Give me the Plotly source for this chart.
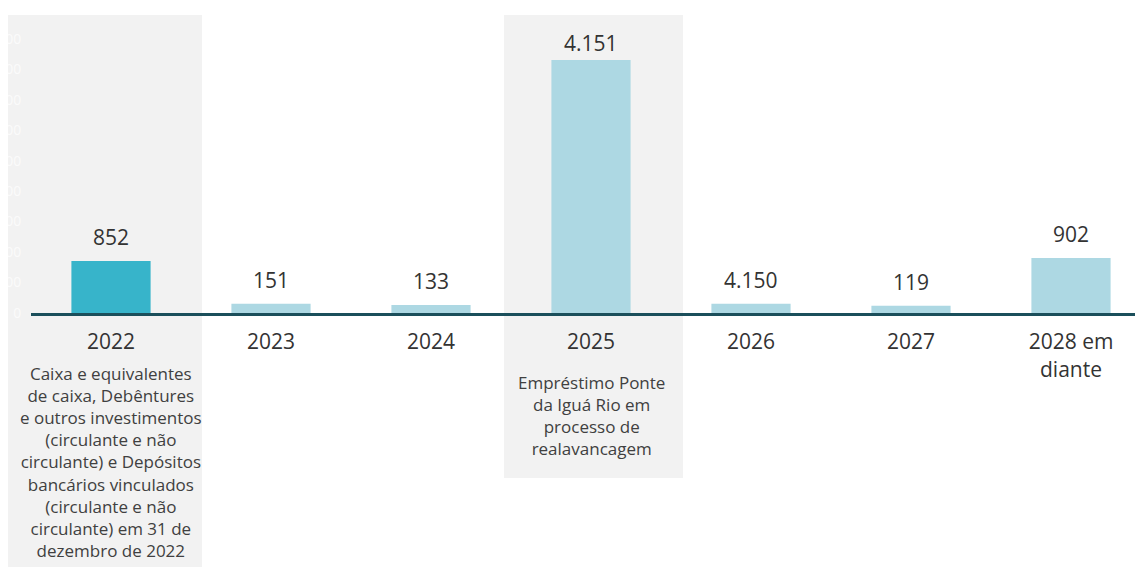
import plotly.graph_objects as go

categories = ["2022", "2023", "2024", "2025", "2026", "2027", "2028 em<br>diante"]
values = [852, 151, 133, 4151, 150, 119, 902]
value_labels = ["852", "151", "133", "4.151", "4.150", "119", "902"]
bar_colors = ["#37b4ca", "#add8e3", "#add8e3", "#add8e3", "#add8e3", "#add8e3", "#add8e3"]
y_ticks = [0, 500, 1000, 1500, 2000, 2500, 3000, 3500, 4000, 4500]

note_2022 = ("Caixa e equivalentes<br>de caixa, Debêntures<br>e outros investimentos<br>"
             "(circulante e não<br>circulante) e Depósitos<br>bancários vinculados<br>"
             "(circulante e não<br>circulante) em 31 de<br>dezembro de 2022")
note_2025 = "Empréstimo Ponte<br>da Iguá Rio em<br>processo de<br>realavancagem"

# style: vertical offsets (px) of value labels above their bars
label_yshift = [8, 8, 8, 1, 8, 8, 8]

# the page body has an 8px default margin; compensate in the figure margins
OFF = 8
X_MIN, X_MAX = -0.5, 6.45


def xpaper(v):
    return (v - X_MIN) / (X_MAX - X_MIN)


xpos = list(range(len(categories)))

fig = go.Figure()
fig.add_trace(go.Bar(
    x=xpos, y=values, marker=dict(color=bar_colors, line=dict(width=0)),
    width=0.495, hoverinfo="skip", showlegend=False,
))

for xi, v, lab, ys in zip(xpos, values, value_labels, label_yshift):
    fig.add_annotation(x=xi, y=v, text=lab, showarrow=False, xref="x", yref="y",
                       yanchor="bottom", yshift=ys,
                       font=dict(family="Open Sans", size=21, color="#333333"))

# highlighted panels (paper x-ref so they are not clipped to the plot area)
fig.add_shape(type="rect", xref="paper", yref="paper", x0=xpaper(-0.644), x1=xpaper(0.569),
              y0=-0.852, y1=1.0, fillcolor="#f2f2f2", line=dict(width=0), layer="below")
fig.add_shape(type="rect", xref="paper", yref="paper", x0=xpaper(2.456), x1=xpaper(3.575),
              y0=-0.554, y1=1.0, fillcolor="#f2f2f2", line=dict(width=0), layer="below")

fig.add_annotation(x=0, y=-0.157, xref="x", yref="paper", text=note_2022, showarrow=False,
                   yanchor="top", align="center",
                   font=dict(family="Open Sans", size=17, color="#404040"))
fig.add_annotation(x=3, y=-0.187, xref="x", yref="paper", text=note_2025, showarrow=False,
                   yanchor="top", align="center",
                   font=dict(family="Open Sans", size=17, color="#404040"))

fig.update_layout(
    width=1143, height=567,
    margin=dict(l=31 - OFF, r=OFF, t=15 - OFF, b=254 + OFF, autoexpand=False),
    plot_bgcolor="rgba(0,0,0,0)", paper_bgcolor="white",
    xaxis=dict(range=[X_MIN, X_MAX], tickvals=xpos, ticktext=categories,
               showline=True, linecolor="#1b4f5b", linewidth=3,
               ticks="outside", ticklen=8, tickcolor="rgba(0,0,0,0)",
               showgrid=False, zeroline=False, automargin=False,
               tickfont=dict(family="Open Sans", size=21, color="#333333")),
    yaxis=dict(range=[0, 4890], tickvals=y_ticks, showgrid=False, zeroline=False,
               ticks="outside", ticklen=6, tickcolor="rgba(0,0,0,0)", automargin=False,
               tickfont=dict(family="Open Sans", size=14, color="#fbfbfb")),
)

fig.write_html("out.html")
